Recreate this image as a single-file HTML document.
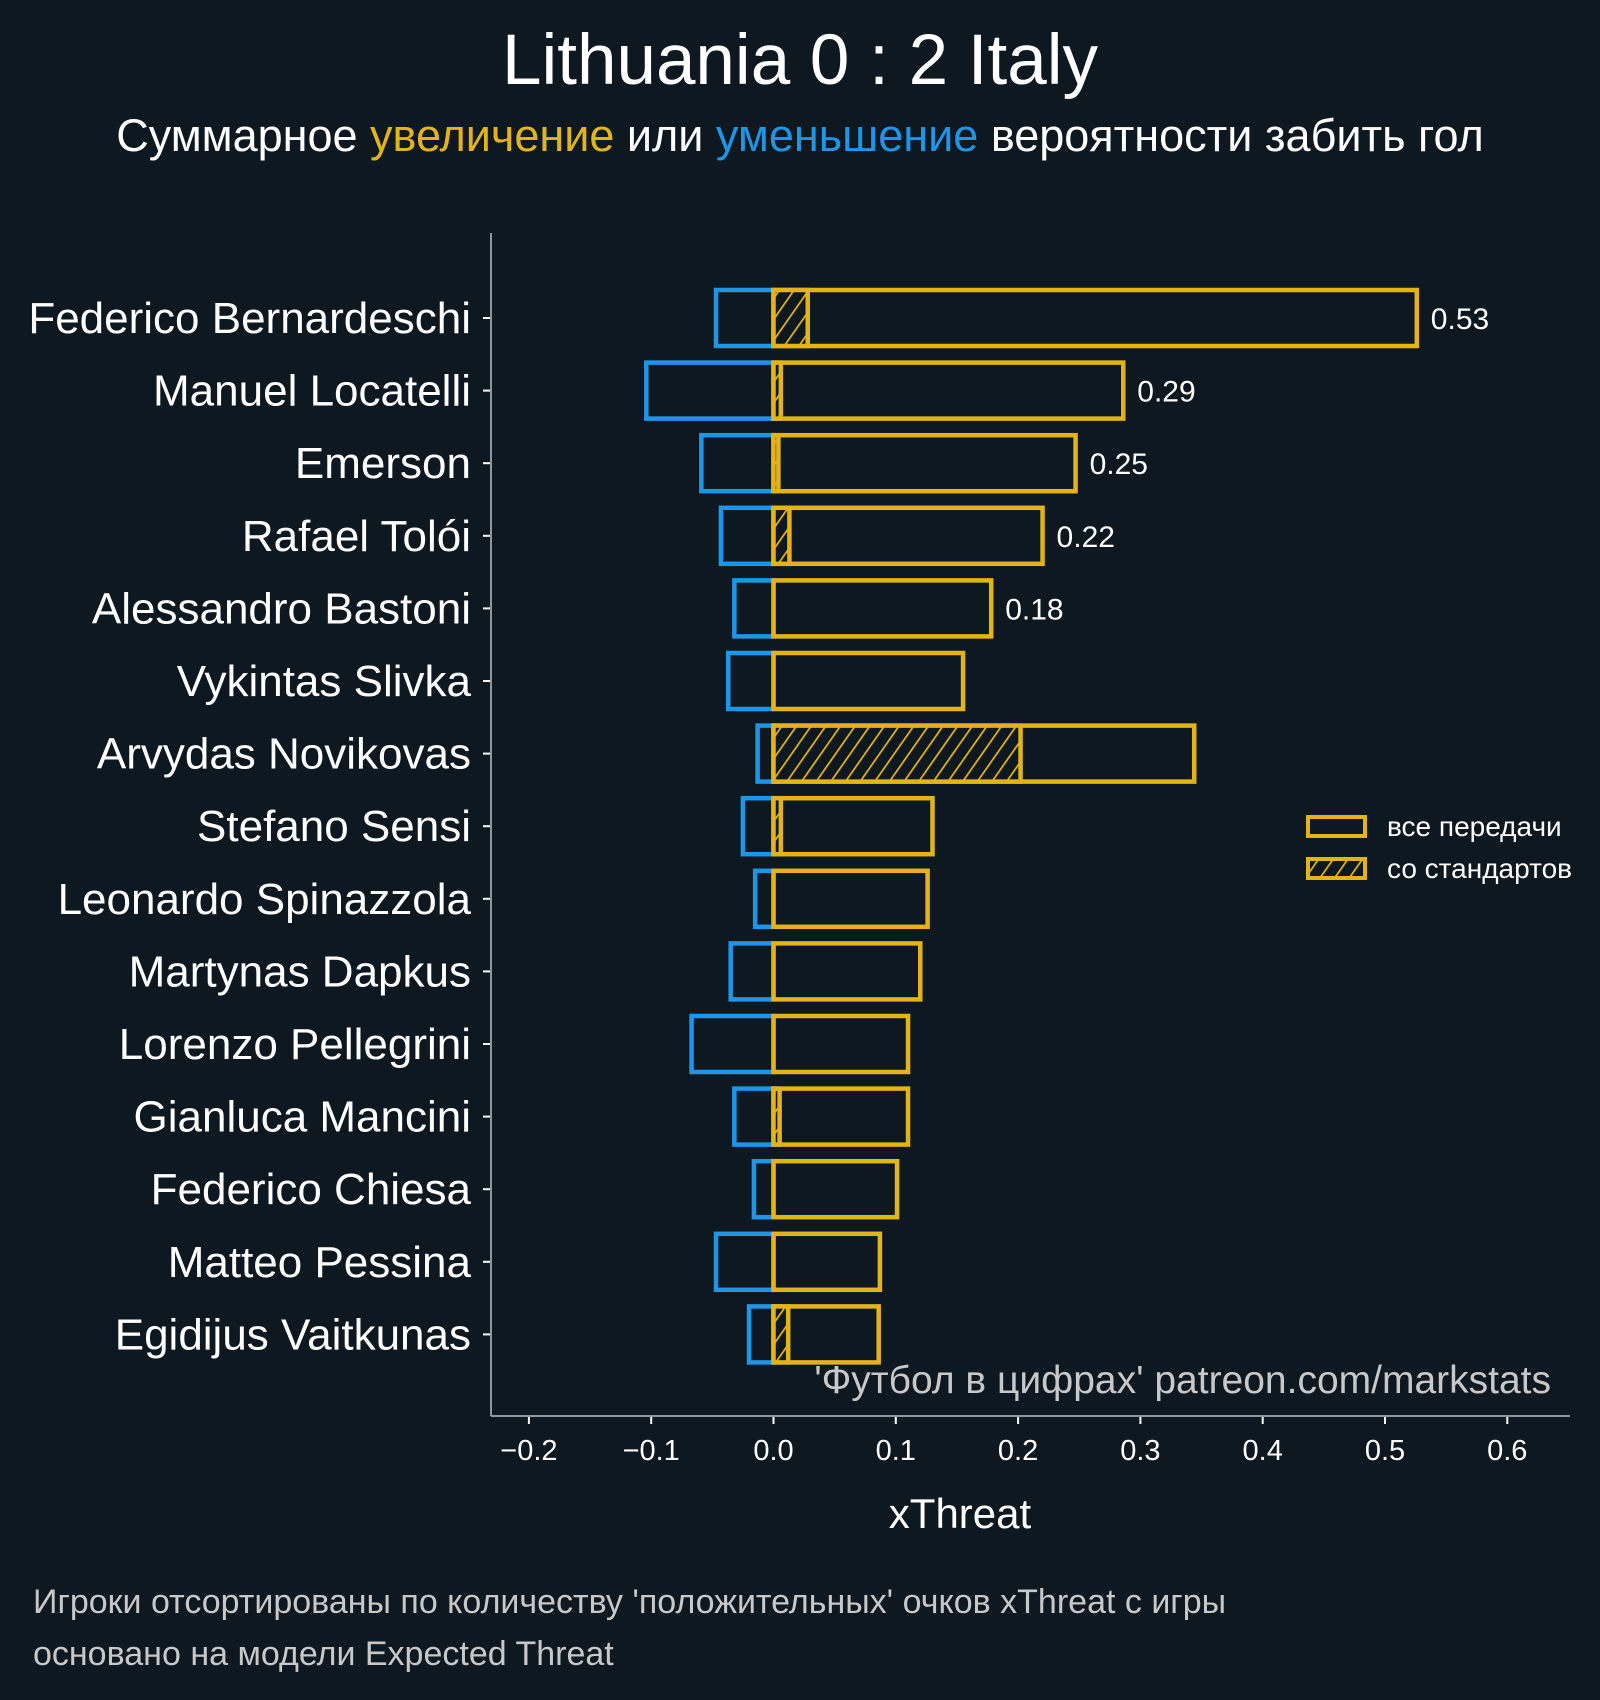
<!DOCTYPE html>
<html><head><meta charset="utf-8"><style>
html,body{margin:0;padding:0;background:#0e1820;}
svg{display:block;font-family:"Liberation Sans","DejaVu Sans",sans-serif;}
</style></head><body>
<svg width="1600" height="1700" viewBox="0 0 1600 1700">
<defs>
<pattern id="hatch" patternUnits="userSpaceOnUse" width="12" height="12" patternTransform="rotate(35)">
<rect width="12" height="12" fill="#0e1820"/>
<line x1="0" y1="0" x2="0" y2="12" stroke="#e3b417" stroke-width="3.5"/>
</pattern>
</defs>
<rect width="1600" height="1700" fill="#0e1820"/>
<text x="800" y="84" text-anchor="middle" fill="#ffffff" font-size="71">Lithuania 0 : 2 Italy</text>
<text x="800" y="151" text-anchor="middle" fill="#ffffff" font-size="45">Суммарное <tspan fill="#e3b417">увеличение</tspan> или <tspan fill="#1e96e8">уменьшение</tspan> вероятности забить гол</text>
<g id="plot"></g>
<line x1="491" y1="233" x2="491" y2="1416" stroke="#8a9a9a" stroke-width="2"/>
<line x1="491" y1="1416" x2="1570" y2="1416" stroke="#8a9a9a" stroke-width="2"/>
<text x="1551" y="1393" text-anchor="end" fill="#c8c8c8" font-size="39">'Футбол в цифрах' patreon.com/markstats</text>
<text x="960" y="1528" text-anchor="middle" fill="#ffffff" font-size="42">xThreat</text>
<g>
<rect x="1308" y="817" width="57" height="19" fill="#0e1820" stroke="#e3b417" stroke-width="4"/>
<text x="1387" y="836" fill="#ffffff" font-size="28">все передачи</text>
<rect x="1308" y="859" width="57" height="19" fill="url(#hatch)" stroke="#e3b417" stroke-width="4"/>
<text x="1387" y="878" fill="#ffffff" font-size="28">со стандартов</text>
</g>
<text x="33" y="1613" fill="#c8c8c8" font-size="34">Игроки отсортированы по количеству 'положительных' очков xThreat с игры</text>
<text x="33" y="1665" fill="#c8c8c8" font-size="34">основано на модели Expected Threat</text>
</svg>
<script>
const players = ["Federico Bernardeschi","Manuel Locatelli","Emerson","Rafael Tolói","Alessandro Bastoni","Vykintas Slivka","Arvydas Novikovas","Stefano Sensi","Leonardo Spinazzola","Martynas Dapkus","Lorenzo Pellegrini","Gianluca Mancini","Federico Chiesa","Matteo Pessina","Egidijus Vaitkunas"];
const positive = [0.526,0.286,0.247,0.22,0.178,0.155,0.344,0.13,0.126,0.12,0.11,0.11,0.101,0.087,0.086];
const negative = [-0.047,-0.104,-0.059,-0.043,-0.032,-0.037,-0.013,-0.025,-0.015,-0.035,-0.067,-0.032,-0.016,-0.047,-0.020];
const setPieces = [0.028,0.006,0.004,0.013,0,0,0.202,0.006,0,0,0,0.005,0,0,0.012];
const valueLabels = ["0.53","0.29","0.25","0.22","0.18"];
const xTicks = [-0.2,-0.1,0.0,0.1,0.2,0.3,0.4,0.5,0.6];

const NS="http://www.w3.org/2000/svg";
const plot=document.getElementById('plot');
const x = v => 773.5 + v*1223;
const y = i => 318 + i*72.6;
const BH = 56;
function mk(tag, attrs){const e=document.createElementNS(NS,tag);for(const k in attrs)e.setAttribute(k,attrs[k]);plot.appendChild(e);return e;}

players.forEach((p,i)=>{
  const cy=y(i);
  let t=mk('line',{x1:483,x2:491,y1:cy,y2:cy,stroke:'#ffffff','stroke-width':2});
  
  
  let l=mk('text',{x:471,y:cy+15,'text-anchor':'end',fill:'#ffffff','font-size':44});
  l.textContent=p;
  
  
  let nb=mk('rect',{x:x(negative[i]),y:cy-BH/2,width:x(0)-x(negative[i]),height:BH,fill:'none',stroke:'#1e96e8','stroke-width':4.5});
  
  
  let pb=mk('rect',{x:x(0),y:cy-BH/2,width:x(positive[i])-x(0),height:BH,fill:'none',stroke:'#e3b417','stroke-width':4.5});
  
  
  if(setPieces[i]>0){
    let sb=mk('rect',{x:x(0),y:cy-BH/2,width:Math.max(x(setPieces[i])-x(0),1),height:BH,fill:'url(#hatch)',stroke:'#e3b417','stroke-width':4.5});
    
    
  }
  if(i<valueLabels.length){
    let v=mk('text',{x:x(positive[i])+14,y:cy+11,fill:'#ffffff','font-size':30});
    v.textContent=valueLabels[i];
    
    
  }
});
xTicks.forEach(v=>{
  let t=mk('line',{x1:x(v),x2:x(v),y1:1416,y2:1424,stroke:'#ffffff','stroke-width':2});
  
  
  let l=mk('text',{x:x(v),y:1460,'text-anchor':'middle',fill:'#ffffff','font-size':29});
  l.textContent=(v<0?'\u2212':'')+Math.abs(v).toFixed(1);
  
  
});
</script>
</body></html>
